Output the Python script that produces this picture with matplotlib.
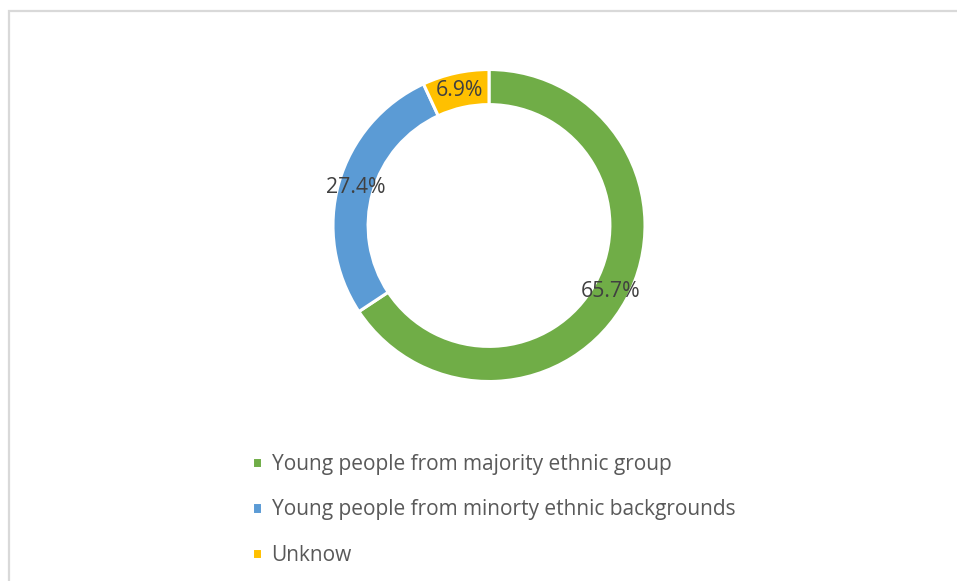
import matplotlib
matplotlib.use("Agg")
import matplotlib.pyplot as plt
from matplotlib.patches import Rectangle

categories = ["Young people from majority ethnic group",
              "Young people from minorty ethnic backgrounds",
              "Unknow"]
values = [65.7, 27.4, 6.9]
colors = ["#70AD47", "#5B9BD5", "#FFC000"]

plt.rcParams['font.family'] = ['Open Sans', 'DejaVu Sans']

W, H = 957, 581
fig = plt.figure(figsize=(W / 100, H / 100), dpi=100)

# chart frame (light gray border, clipped at right/bottom)
fig.patches.append(Rectangle((8.5 / W, -0.1), 1.2, (H - 11) / H + 0.1,
                             transform=fig.transFigure, fill=False,
                             edgecolor="#D9D9D9", linewidth=1.6))

cx, cy, r = 489, 225.5, 156
ax = fig.add_axes([(cx - r) / W, (H - cy - r) / H, 2 * r / W, 2 * r / H])

wedges, texts, autotexts = ax.pie(
    values, colors=colors, startangle=90, counterclock=False,
    autopct='%.1f%%', pctdistance=0.888,
    wedgeprops=dict(width=0.225, edgecolor="white", linewidth=2.2),
    textprops=dict(color="#404040", fontsize=15.3))
ax.set_xlim(-1, 1)
ax.set_ylim(-1, 1)
ax.set_aspect('equal')

leg = fig.legend(wedges, categories, loc="upper left",
                 bbox_to_anchor=(242 / W, 1 - 443.5 / H),
                 frameon=False, fontsize=15, labelcolor="#595959",
                 handlelength=0.45, handleheight=0.45, handletextpad=0.47,
                 labelspacing=1.18, borderpad=0)

fig.savefig("out.png", dpi=100)
